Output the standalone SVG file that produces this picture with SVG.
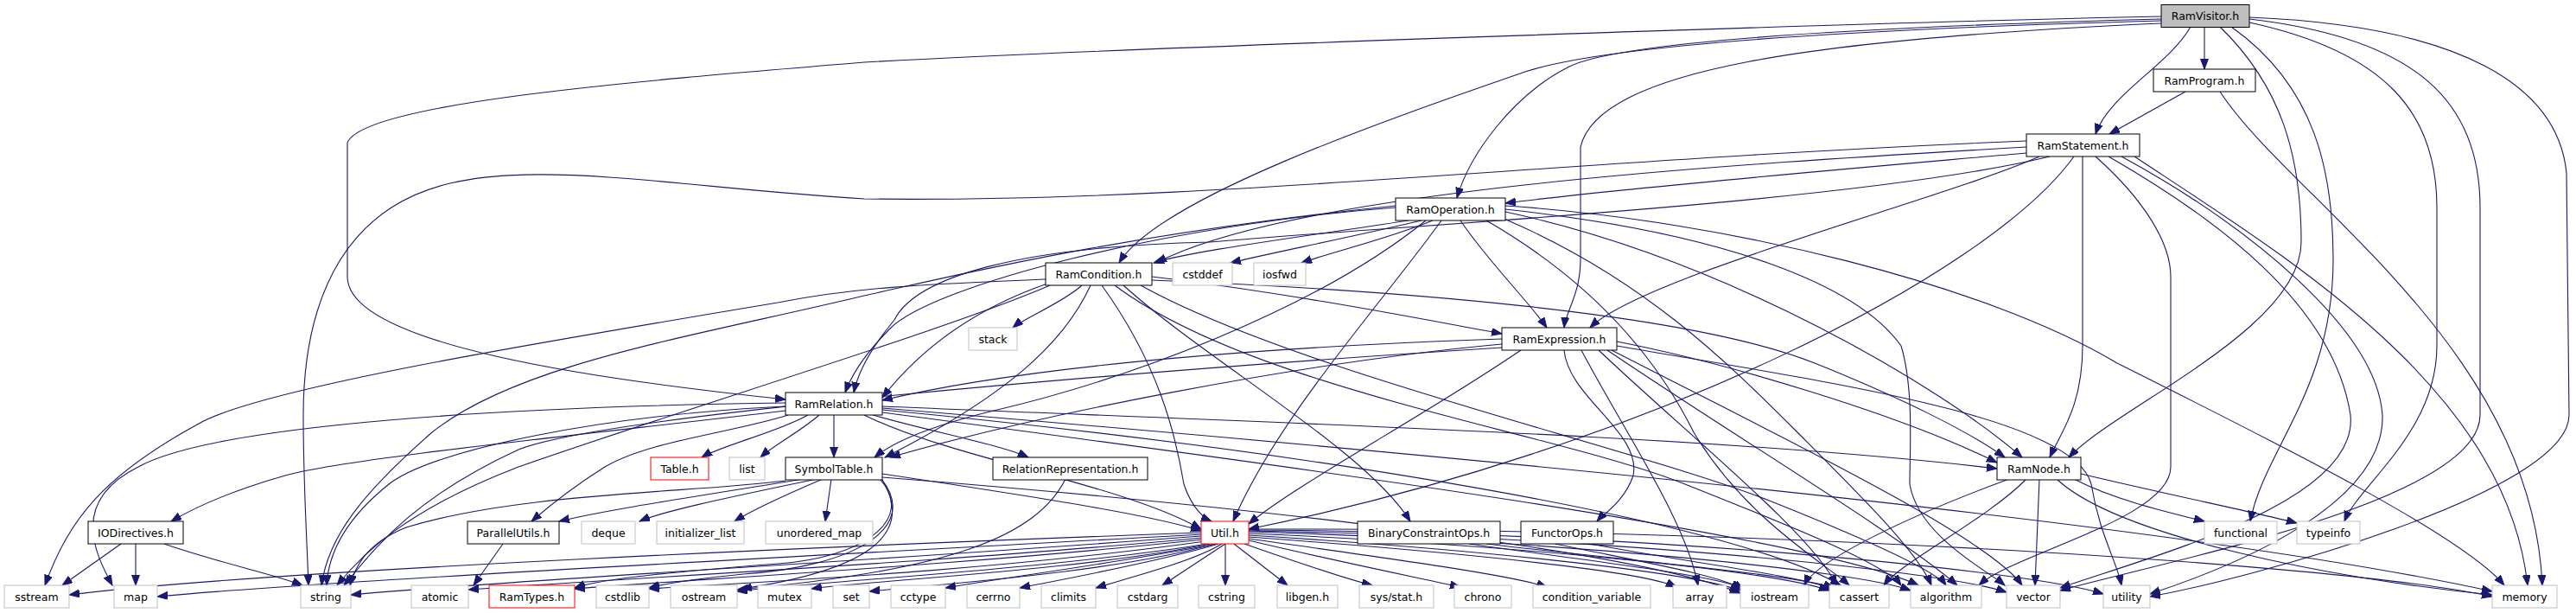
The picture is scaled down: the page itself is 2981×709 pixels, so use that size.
<svg xmlns="http://www.w3.org/2000/svg" width="2981" height="709" viewBox="0 0 2981 709">
<style>
rect{stroke-width:1}
.n{fill:#fff;stroke:#000}
.r{fill:#bfbfbf;stroke:#000}
.s{fill:#fff;stroke:#bfbfbf}
.e{fill:#fff;stroke:#ff0000}
text{font-family:"DejaVu Sans","Liberation Sans",sans-serif;font-size:12.5px;fill:#000;text-anchor:middle}
#edges path{fill:none;stroke:#191970;stroke-width:1.1;marker-end:url(#a)}
</style>
<defs>
<marker id="a" markerWidth="13" markerHeight="10" refX="12" refY="4.5" orient="auto" markerUnits="userSpaceOnUse"><path d="M0,0 L12,4.5 L0,9 z" fill="#191970" stroke="#191970" stroke-width="1"/></marker>
</defs>
<rect width="2981" height="709" fill="#fff"/>
<g id="edges">
<path d="M2551,31 L2551,80"/>
<path d="M2535,31 C2510,75 2440,110 2425,155"/>
<path d="M2501,22 C2200,30 1880,45 1816,77 C1750,110 1700,180 1686,229"/>
<path d="M2501,24 C2100,35 1850,55 1765,83 C1600,140 1340,230 1295,304"/>
<path d="M2501,27 C2100,45 1850,80 1829,170 L1829,300 C1829,340 1812,360 1810,379"/>
<path d="M2501,19 C2200,25 1300,55 1000,72 C720,95 420,120 402,165 L402,320 C402,400 700,440 909,462"/>
<path d="M2569,31 C2640,100 2663,180 2663,280 C2663,380 2450,470 2394,529"/>
<path d="M2582,31 C2680,100 2700,200 2700,300 C2700,450 2620,520 2604,603"/>
<path d="M2603,26 C2760,60 2820,130 2820,240 L2820,400 C2820,500 2730,560 2713,603"/>
<path d="M2603,22 C2800,45 2870,120 2870,240 L2870,480 C2870,580 2500,650 2384,683"/>
<path d="M2603,20 C2850,30 2960,100 2970,200 L2973,480 C2973,570 2600,670 2488,690"/>
<path d="M2529,106 L2441,155"/>
<path d="M2569,106 C2650,230 2930,400 2942,677"/>
<path d="M2345,177 C2200,190 1900,215 1742,235"/>
<path d="M2345,163 C1800,185 1400,235 1000,230 C750,215 560,170 453,240 C360,300 351,420 351,480 C351,560 355,620 357,677"/>
<path d="M2345,170 C2000,190 1500,220 1338,304"/>
<path d="M2360,181 C2250,230 1900,320 1840,379"/>
<path d="M2372,181 C2150,235 1600,262 1400,280 C1180,285 1060,320 1035,370 C1010,400 993,430 988,454"/>
<path d="M2400,181 C2300,320 1900,520 1445,612"/>
<path d="M2410,181 L2410,400 C2410,470 2385,500 2372,529"/>
<path d="M2425,181 C2480,230 2512,280 2512,320 L2512,540 C2512,600 2330,640 2290,677"/>
<path d="M2440,181 C2560,250 2700,350 2720,480 C2730,580 2500,640 2384,680"/>
<path d="M2455,181 C2600,260 2750,380 2757,480 C2760,580 2600,650 2488,687"/>
<path d="M2470,181 C2650,300 2900,450 2925,677"/>
<path d="M1630,255 C1500,275 1380,290 1335,304"/>
<path d="M1645,255 C1560,275 1460,295 1424,304"/>
<path d="M1658,255 C1610,275 1540,292 1506,304"/>
<path d="M1690,255 C1720,300 1770,350 1790,379"/>
<path d="M1668,255 C1600,350 1480,480 1427,603"/>
<path d="M1615,240 C1350,260 1080,330 1030,380 C1000,410 985,435 978,454"/>
<path d="M1742,245 C2000,300 2250,450 2340,529"/>
<path d="M1742,238 C2000,255 2300,330 2450,420 C2650,520 2850,620 2898,677"/>
<path d="M1742,242 C2000,270 2150,330 2200,400 C2215,450 2210,520 2210,560 C2220,620 2300,660 2320,677"/>
<path d="M1615,238 C1300,270 1100,320 1000,342 C800,390 600,420 500,500 C420,570 380,620 372,677"/>
<path d="M1720,255 C1850,330 1920,420 1960,500 C2020,600 2110,650 2140,677"/>
<path d="M1650,255 C1520,360 1300,440 1150,475 C1080,492 1035,510 1012,529"/>
<path d="M1738,252 C1900,320 2000,420 2080,500 C2160,580 2220,640 2235,677"/>
<path d="M1252,330 C1230,350 1185,368 1172,379"/>
<path d="M1333,320 C1500,340 1650,370 1738,386"/>
<path d="M1212,328 C1120,360 1060,410 1021,460"/>
<path d="M1262,330 C1230,400 1160,460 1024,529"/>
<path d="M1300,330 C1400,420 1580,520 1632,603"/>
<path d="M1210,323 C1100,328 1000,330 900,350 C600,400 300,450 230,490 C120,550 80,600 52,677"/>
<path d="M1275,330 C1340,420 1360,500 1370,560 C1380,590 1395,600 1402,603"/>
<path d="M1333,324 C1600,335 1950,360 2100,420 C2200,460 2280,500 2320,529"/>
<path d="M1215,330 C1100,380 800,470 600,540 C470,590 420,640 390,677"/>
<path d="M1290,330 C1450,450 1800,500 1950,560 C2050,600 2180,650 2200,677"/>
<path d="M1320,330 C1500,430 1900,520 2050,580 C2150,620 2240,660 2252,677"/>
<path d="M1738,392 C1500,400 1200,420 1021,463"/>
<path d="M1738,398 C1500,420 1200,480 1030,529"/>
<path d="M1760,405 C1650,480 1500,560 1445,606"/>
<path d="M1810,405 C1815,460 1900,500 1890,550 C1880,580 1855,595 1848,603"/>
<path d="M1871,395 C2000,420 2200,480 2311,535"/>
<path d="M1738,402 C1300,430 700,480 600,520 C470,580 430,640 398,677"/>
<path d="M1871,400 C2100,440 2400,480 2420,560 C2430,620 2450,650 2455,677"/>
<path d="M1830,405 C1880,500 1950,600 1965,677"/>
<path d="M1850,405 C1950,500 2100,620 2125,677"/>
<path d="M1860,405 C2000,500 2200,620 2265,677"/>
<path d="M1865,405 C2050,500 2300,620 2340,677"/>
<path d="M935,480 C900,500 835,515 812,529"/>
<path d="M948,480 C925,500 895,515 880,529"/>
<path d="M965,480 L965,529"/>
<path d="M1010,480 C1080,500 1160,515 1190,529"/>
<path d="M909,475 C700,500 400,530 330,550 C260,570 220,590 198,603"/>
<path d="M912,480 C850,500 750,510 700,540 C660,565 630,590 615,603"/>
<path d="M1000,480 C1100,530 1300,560 1390,612"/>
<path d="M909,470 C700,480 500,520 450,560 C400,600 380,640 378,677"/>
<path d="M909,466 C600,470 250,490 160,540 C80,580 110,640 130,677"/>
<path d="M1021,470 C1500,490 2000,505 2311,542"/>
<path d="M1021,474 C1500,520 2000,600 2130,677"/>
<path d="M1021,477 C1500,540 2100,620 2220,677"/>
<path d="M1021,472 C1600,520 2500,600 2884,684"/>
<path d="M930,554 C800,575 700,590 647,603"/>
<path d="M945,554 C860,572 770,590 740,603"/>
<path d="M952,554 C910,572 870,590 850,603"/>
<path d="M962,554 L955,603"/>
<path d="M909,556 C800,570 600,570 470,610 C420,630 410,660 405,677"/>
<path d="M1021,548 C1200,575 1330,595 1390,614"/>
<path d="M1018,554 C1060,600 1000,645 900,652 C800,660 700,668 665,680"/>
<path d="M1020,554 C1065,610 990,655 860,664 C800,670 770,675 751,680"/>
<path d="M1021,555 C1060,620 1000,660 858,681"/>
<path d="M1021,552 C1500,590 1900,640 2014,686"/>
<path d="M582,629 L548,677"/>
<path d="M140,629 L72,677"/>
<path d="M157,629 L157,677"/>
<path d="M190,629 C250,650 320,665 350,677"/>
<path d="M1233,554 C1200,620 1100,660 853,682"/>
<path d="M1390,616 C1000,630 300,660 80,688"/>
<path d="M1390,618 C1000,640 400,670 182,690"/>
<path d="M1390,620 C1000,650 600,670 406,688"/>
<path d="M1392,622 C1100,650 700,670 542,682"/>
<path d="M1392,624 C1100,655 800,670 665,681"/>
<path d="M1395,626 C1150,660 900,672 751,681"/>
<path d="M1398,629 C1200,660 950,672 853,684"/>
<path d="M1400,629 C1250,660 1000,672 939,681"/>
<path d="M1405,629 C1300,660 1100,675 1006,684"/>
<path d="M1408,629 C1300,650 1150,670 1094,680"/>
<path d="M1410,629 C1340,650 1230,670 1180,680"/>
<path d="M1414,629 C1380,650 1300,670 1268,680"/>
<path d="M1418,629 L1345,677"/>
<path d="M1418,629 L1418,677"/>
<path d="M1428,629 L1490,677"/>
<path d="M1440,629 C1500,650 1560,670 1588,677"/>
<path d="M1445,625 C1550,650 1650,670 1690,679"/>
<path d="M1445,623 C1600,645 1750,665 1790,679"/>
<path d="M1445,621 C1700,640 1900,660 1940,679"/>
<path d="M1445,619 C1700,635 1950,660 2014,683"/>
<path d="M1445,617 C1750,630 2050,660 2117,683"/>
<path d="M1445,615 C1800,625 2150,660 2211,683"/>
<path d="M1445,614 C1850,620 2250,660 2322,685"/>
<path d="M1445,613 C1900,615 2350,660 2434,687"/>
<path d="M1445,612 C2000,610 2700,650 2884,690"/>
<path d="M1700,629 C1850,650 1980,665 2016,680"/>
<path d="M1720,629 C1900,650 2080,665 2122,680"/>
<path d="M1800,629 C1900,650 1990,665 2018,682"/>
<path d="M1840,629 C1950,650 2080,665 2124,682"/>
<path d="M2325,554 C2200,600 2100,650 2088,677"/>
<path d="M2345,554 C2300,600 2200,650 2180,677"/>
<path d="M2360,554 L2355,677"/>
<path d="M2380,554 C2450,620 2700,670 2884,688"/>
<path d="M2400,554 C2450,580 2520,595 2551,603"/>
<path d="M2408,548 C2500,570 2620,595 2658,605"/>
</g>
<g id="n_RamVisitor"><rect class="r" x="2501" y="5.5" width="102" height="26"/><text x="2552" y="23">RamVisitor.h</text></g>
<g id="n_RamProgram"><rect class="n" x="2492" y="80" width="118" height="26"/><text x="2551" y="97.5">RamProgram.h</text></g>
<g id="n_RamStatement"><rect class="n" x="2345" y="155" width="131" height="26"/><text x="2410.5" y="172.5">RamStatement.h</text></g>
<g id="n_RamOperation"><rect class="n" x="1615" y="229" width="127" height="26"/><text x="1678.5" y="246.5">RamOperation.h</text></g>
<g id="n_RamCondition"><rect class="n" x="1210" y="304" width="123" height="26"/><text x="1271.5" y="321.5">RamCondition.h</text></g>
<g id="n_cstddef"><rect class="s" x="1357" y="304" width="69" height="26"/><text x="1391.5" y="321.5">cstddef</text></g>
<g id="n_iosfwd"><rect class="s" x="1451" y="304" width="60" height="26"/><text x="1481" y="321.5">iosfwd</text></g>
<g id="n_stack"><rect class="s" x="1121" y="379" width="56" height="26"/><text x="1149" y="396.5">stack</text></g>
<g id="n_RamExpression"><rect class="n" x="1738" y="379" width="133" height="26"/><text x="1804.5" y="396.5">RamExpression.h</text></g>
<g id="n_RamRelation"><rect class="n" x="909" y="454" width="112" height="26"/><text x="965" y="471.5">RamRelation.h</text></g>
<g id="n_Table"><rect class="e" x="753" y="529" width="67" height="26"/><text x="786.5" y="546.5">Table.h</text></g>
<g id="n_list"><rect class="s" x="844" y="529" width="41" height="26"/><text x="864.5" y="546.5">list</text></g>
<g id="n_SymbolTable"><rect class="n" x="909" y="529" width="112" height="26"/><text x="965" y="546.5">SymbolTable.h</text></g>
<g id="n_RelationRepresentation"><rect class="n" x="1149" y="529" width="179" height="26"/><text x="1238.5" y="546.5">RelationRepresentation.h</text></g>
<g id="n_RamNode"><rect class="n" x="2311" y="529" width="97" height="26"/><text x="2359.5" y="546.5">RamNode.h</text></g>
<g id="n_IODirectives"><rect class="n" x="102" y="603" width="110" height="26"/><text x="157" y="620.5">IODirectives.h</text></g>
<g id="n_ParallelUtils"><rect class="n" x="541" y="603" width="106" height="26"/><text x="594" y="620.5">ParallelUtils.h</text></g>
<g id="n_deque"><rect class="s" x="673" y="603" width="62" height="26"/><text x="704" y="620.5">deque</text></g>
<g id="n_initializer_list"><rect class="s" x="760" y="603" width="101" height="26"/><text x="810.5" y="620.5">initializer_list</text></g>
<g id="n_unordered_map"><rect class="s" x="886" y="603" width="124" height="26"/><text x="948" y="620.5">unordered_map</text></g>
<g id="n_Util"><rect class="e" x="1390" y="603" width="55" height="26"/><text x="1417.5" y="620.5">Util.h</text></g>
<g id="n_BinaryConstraintOps"><rect class="n" x="1571" y="603" width="165" height="26"/><text x="1653.5" y="620.5">BinaryConstraintOps.h</text></g>
<g id="n_FunctorOps"><rect class="n" x="1760" y="603" width="107" height="26"/><text x="1813.5" y="620.5">FunctorOps.h</text></g>
<g id="n_functional"><rect class="s" x="2551" y="603" width="84" height="26"/><text x="2593" y="620.5">functional</text></g>
<g id="n_typeinfo"><rect class="s" x="2658" y="603" width="73" height="26"/><text x="2694.5" y="620.5">typeinfo</text></g>
<g id="n_sstream"><rect class="s" x="5" y="677" width="75" height="26"/><text x="42.5" y="694.5">sstream</text></g>
<g id="n_map"><rect class="s" x="132" y="677" width="50" height="26"/><text x="157" y="694.5">map</text></g>
<g id="n_string"><rect class="s" x="348" y="677" width="58" height="26"/><text x="377" y="694.5">string</text></g>
<g id="n_atomic"><rect class="s" x="476" y="677" width="66" height="26"/><text x="509" y="694.5">atomic</text></g>
<g id="n_RamTypes"><rect class="e" x="566" y="677" width="99" height="26"/><text x="615.5" y="694.5">RamTypes.h</text></g>
<g id="n_cstdlib"><rect class="s" x="690" y="677" width="61" height="26"/><text x="720.5" y="694.5">cstdlib</text></g>
<g id="n_ostream"><rect class="s" x="776" y="677" width="77" height="26"/><text x="814.5" y="694.5">ostream</text></g>
<g id="n_mutex"><rect class="s" x="877" y="677" width="62" height="26"/><text x="908" y="694.5">mutex</text></g>
<g id="n_set"><rect class="s" x="964" y="677" width="42" height="26"/><text x="985" y="694.5">set</text></g>
<g id="n_cctype"><rect class="s" x="1031" y="677" width="63" height="26"/><text x="1062.5" y="694.5">cctype</text></g>
<g id="n_cerrno"><rect class="s" x="1119" y="677" width="61" height="26"/><text x="1149.5" y="694.5">cerrno</text></g>
<g id="n_climits"><rect class="s" x="1205" y="677" width="63" height="26"/><text x="1236.5" y="694.5">climits</text></g>
<g id="n_cstdarg"><rect class="s" x="1293" y="677" width="70" height="26"/><text x="1328" y="694.5">cstdarg</text></g>
<g id="n_cstring"><rect class="s" x="1387" y="677" width="65" height="26"/><text x="1419.5" y="694.5">cstring</text></g>
<g id="n_libgen"><rect class="s" x="1478" y="677" width="70" height="26"/><text x="1513" y="694.5">libgen.h</text></g>
<g id="n_sysstat"><rect class="s" x="1573" y="677" width="86" height="26"/><text x="1616" y="694.5">sys/stat.h</text></g>
<g id="n_chrono"><rect class="s" x="1683" y="677" width="66" height="26"/><text x="1716" y="694.5">chrono</text></g>
<g id="n_condition_variable"><rect class="s" x="1774" y="677" width="136" height="26"/><text x="1842" y="694.5">condition_variable</text></g>
<g id="n_array"><rect class="s" x="1936" y="677" width="62" height="26"/><text x="1967" y="694.5">array</text></g>
<g id="n_iostream"><rect class="s" x="2014" y="677" width="79" height="26"/><text x="2053.5" y="694.5">iostream</text></g>
<g id="n_cassert"><rect class="s" x="2117" y="677" width="69" height="26"/><text x="2151.5" y="694.5">cassert</text></g>
<g id="n_algorithm"><rect class="s" x="2211" y="677" width="82" height="26"/><text x="2252" y="694.5">algorithm</text></g>
<g id="n_vector"><rect class="s" x="2322" y="677" width="62" height="26"/><text x="2353" y="694.5">vector</text></g>
<g id="n_utility"><rect class="s" x="2434" y="677" width="54" height="26"/><text x="2461" y="694.5">utility</text></g>
<g id="n_memory"><rect class="s" x="2884" y="677" width="75" height="26"/><text x="2921.5" y="694.5">memory</text></g>
</svg>
